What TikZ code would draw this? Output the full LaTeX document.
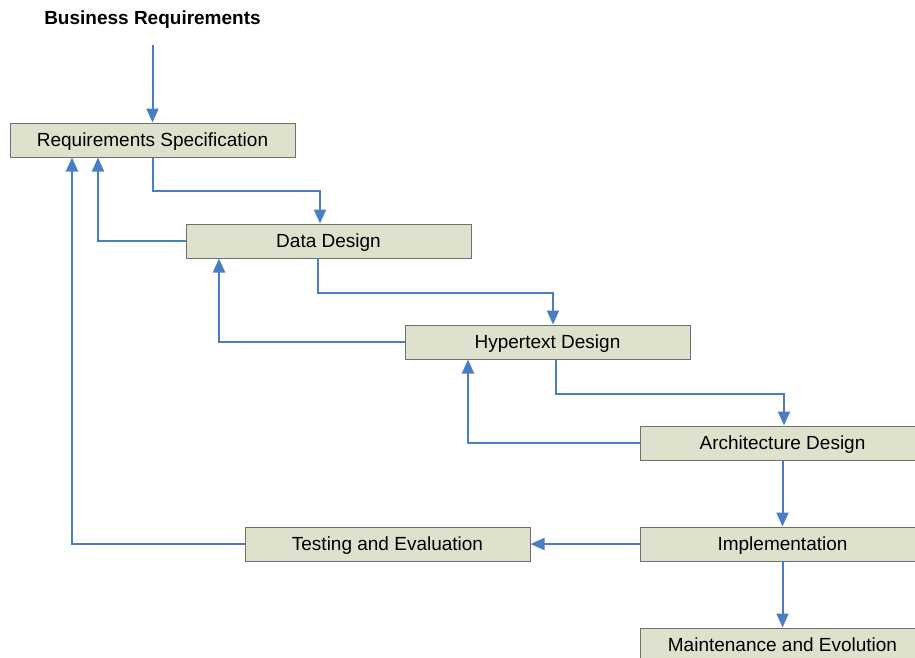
\documentclass[tikz,border=0pt]{standalone}
\usepackage{fontspec}
\setmainfont{Liberation Sans}
\usetikzlibrary{arrows.meta}
\definecolor{boxfill}{HTML}{DEE1CC}
\definecolor{boxline}{HTML}{6E6E6E}
\definecolor{flow}{HTML}{4A7EC4}
\tikzset{
  phase/.style={draw=boxline, line width=1pt, fill=boxfill, minimum width=285pt,
    minimum height=34pt, inner sep=0pt, text height=16pt, text depth=4pt,
    font=\fontsize{19pt}{22pt}\selectfont},
  flowline/.style={draw=flow, line width=2pt,
    -{Triangle[width=12pt,length=14pt]}},
}
\begin{document}
\begin{tikzpicture}[x=1pt,y=-1pt]
  \useasboundingbox (0,0) rectangle (915,657);
  \clip (0,0) rectangle (915,657);

  % phases of the process
  \node[font=\bfseries\fontsize{19pt}{22pt}\selectfont] (biz) at (152.5,20) {Business Requirements};
  \coordinate (bizout) at (152.5,45);
  \node[phase] (req)   at (152.5,140) {Requirements Specification};
  \node[phase] (data)  at (328.5,241) {Data Design};
  \node[phase] (hyp)   at (547.5,342) {Hypertext Design};
  \node[phase] (arch)  at (782.5,443) {Architecture Design};
  \node[phase] (impl)  at (782.5,544) {Implementation};
  \node[phase] (test)  at (387.5,544) {Testing and Evaluation};
  \node[phase] (maint) at (782.5,645) {Maintenance and Evolution};

  % forward flow
  \draw[flowline] (bizout) -- (req.north);
  \draw[flowline] (req.south) -- ++(0,33) -| ([xshift=-8.5pt]data.north);
  \draw[flowline] ([xshift=-10.5pt]data.south) -- ++(0,34) -| ([xshift=5.5pt]hyp.north);
  \draw[flowline] ([xshift=8.5pt]hyp.south) -- ++(0,34) -| ([xshift=1.5pt]arch.north);
  \draw[flowline] (arch.south) -- (impl.north);
  \draw[flowline] (impl.south) -- (maint.north);
  \draw[flowline] (impl.west) -- (test.east);

  % feedback loops
  \draw[flowline] (data.west) -| ([xshift=-54.5pt]req.south);
  \draw[flowline] (hyp.west) -| ([xshift=-109.5pt]data.south);
  \draw[flowline] (arch.west) -| ([xshift=-79.5pt]hyp.south);
  \draw[flowline] (test.west) -| ([xshift=-80.5pt]req.south);
\end{tikzpicture}
\end{document}
